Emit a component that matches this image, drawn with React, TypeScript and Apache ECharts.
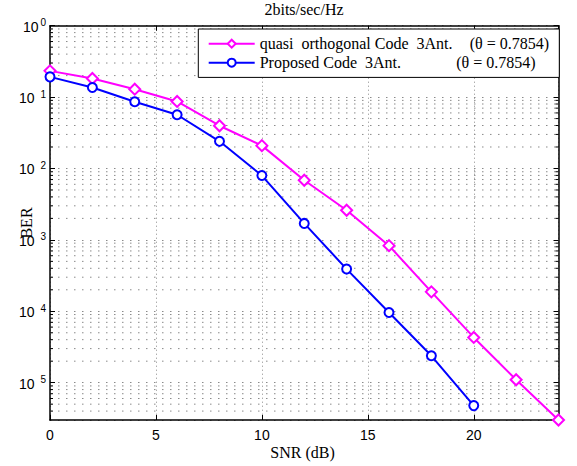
import React, { useEffect, useRef } from "react";
import * as echarts from "echarts";

const snr = [0, 2, 4, 6, 8, 10, 12, 14, 16, 18, 20, 22, 24];
const quasiBer = [0.233, 0.182, 0.129, 0.0869, 0.0397, 0.0209, 0.00684, 0.0026, 8.3e-4, 1.87e-4, 4.3e-5, 1.1e-5, 3.0e-6];
const proposedBer = [0.192, 0.136, 0.086, 0.0566, 0.024, 0.00796, 0.0017, 3.9e-4, 9.6e-5, 2.38e-5, 4.77e-6];

const quasiName = "quasi  orthogonal Code  3Ant. (θ = 0.7854)";
const proposedName = "Proposed Code  3Ant.        (θ = 0.7854)";
const titleText = "2bits/sec/Hz";
const xName = "SNR (dB)";
const yName = "BER";

const yMin = 3.0e-6;
const yMax = 1;
const xMin = 0;
const xMax = 24;
const decadeExps = [-1, -2, -3, -4, -5, -6];
const mantissas = [2, 3, 4, 5, 6, 7, 8, 9];

const SERIF = "'Liberation Serif', 'Times New Roman', serif";
const SANS = "'Liberation Sans', Arial, sans-serif";
const GRID_COLOR = "#8a8a8a";

export default function App() {
  const ref = useRef<HTMLDivElement>(null);
  useEffect(() => {
    if (!ref.current) return;
    const chart = echarts.init(ref.current, null, { renderer: "svg" });

    const minorValues: number[] = [];
    decadeExps.forEach((e) => {
      mantissas.forEach((m) => {
        const v = m * Math.pow(10, e);
        if (v > yMin && v < yMax) minorValues.push(v);
      });
    });

    const yLabelFormatter = (v: number) => {
      const e = Math.log10(v);
      const r = Math.round(e);
      if (Math.abs(e - r) > 1e-6) return "";
      if (r === 0) return "{b|10}{s0|0}";
      return "{b|10}{s|" + String(Math.abs(r)) + "}";
    };

    const option: any = {
      animation: false,
      grid: {
        left: 50,
        right: 18.5,
        top: 25.7,
        bottom: 46,
        containLabel: false,
        outerBoundsMode: "none",
      },
      graphic: [
        {
          type: "text",
          x: 304,
          y: 9,
          style: {
            text: titleText,
            align: "center",
            verticalAlign: "middle",
            font: "16px " + SERIF,
            fill: "#000",
          },
        },
        {
          type: "text",
          x: 302.5,
          y: 452,
          style: {
            text: xName,
            align: "center",
            verticalAlign: "middle",
            font: "16px " + SERIF,
            fill: "#000",
          },
        },
        {
          type: "text",
          x: 26,
          y: 223,
          rotation: Math.PI / 2,
          style: {
            text: yName,
            align: "center",
            verticalAlign: "middle",
            font: "16px " + SERIF,
            fill: "#000",
          },
        },
      ],
      legend: {
        data: [quasiName, proposedName],
        orient: "vertical",
        left: 198.3,
        top: 29,
        padding: [6.7, 3.6, 6.7, 9.4],
        itemGap: 3,
        itemWidth: 46,
        itemHeight: 10,
        backgroundColor: "#fff",
        borderColor: "#000",
        borderWidth: 1,
        borderRadius: 0,
        selectedMode: false,
        z: 20,
        textStyle: {
          fontFamily: SERIF,
          fontSize: 16,
          color: "#000",
          rich: {
            a: { fontFamily: SERIF, fontSize: 16, lineHeight: 20, width: 210, color: "#000" },
            c: { fontFamily: SERIF, fontSize: 16, lineHeight: 20, width: 196.5, color: "#000" },
            b: { fontFamily: SERIF, fontSize: 16, lineHeight: 20, width: 86, color: "#000" },
          },
        },
        formatter: (name: string) =>
          name === quasiName
            ? "{a|quasi  orthogonal Code  3Ant.}{b|(θ = 0.7854)}"
            : "{c|Proposed Code  3Ant.}{b|(θ = 0.7854)}",
      },
      xAxis: [
        {
          type: "value",
          min: xMin,
          max: xMax,
          interval: 5,
          position: "bottom",
          axisLine: { show: true, onZero: false, lineStyle: { color: "#000", width: 1.5 } },
          axisTick: { show: true, inside: true, length: 5, lineStyle: { color: "#000", width: 1 } },
          axisLabel: {
            margin: 8,
            fontFamily: SANS,
            fontSize: 14,
            color: "#000",
            formatter: (v: number) => (v % 5 === 0 ? String(v) : ""),
          },
          splitLine: { show: true, lineStyle: { color: GRID_COLOR, width: 1, type: [1, 3] } },
        },
        {
          type: "value",
          min: xMin,
          max: xMax,
          interval: 5,
          position: "top",
          axisLine: { show: true, onZero: false, lineStyle: { color: "#000", width: 1.5 } },
          axisTick: { show: true, inside: true, length: 5, lineStyle: { color: "#000", width: 1 } },
          axisLabel: { show: false },
          splitLine: { show: false },
        },
      ],
      yAxis: [
        {
          type: "log",
          logBase: 10,
          min: yMin,
          max: yMax,
          position: "left",
          axisLine: { show: true, onZero: false, lineStyle: { color: "#000", width: 1.5 } },
          axisTick: { show: true, inside: true, length: 5, lineStyle: { color: "#000", width: 1 } },
          axisLabel: {
            margin: 4,
            showMinLabel: false,
            formatter: yLabelFormatter,
            rich: {
              b: { fontFamily: SANS, fontSize: 14, lineHeight: 16, verticalAlign: "bottom", color: "#000" },
              s: { fontFamily: SANS, fontSize: 10, lineHeight: 8, verticalAlign: "top", color: "#000", padding: [0, 0, 0, 6] },
              s0: { fontFamily: SANS, fontSize: 10, lineHeight: 8, verticalAlign: "top", color: "#000", padding: [0, 0, 0, 2] },
            },
          },
          splitLine: { show: true, lineStyle: { color: GRID_COLOR, width: 1, type: [1.5, 6.5] } },
        },
        {
          type: "log",
          logBase: 10,
          min: yMin,
          max: yMax,
          position: "right",
          axisLine: { show: true, onZero: false, lineStyle: { color: "#000", width: 1.5 } },
          axisTick: { show: true, inside: true, length: 5, lineStyle: { color: "#000", width: 1 } },
          axisLabel: { show: false },
          splitLine: { show: false },
        },
      ],
      series: [
        {
          type: "custom",
          name: "minorGrid",
          silent: true,
          clip: false,
          z: 1,
          xAxisIndex: 0,
          yAxisIndex: 0,
          data: minorValues.map((v) => [0, v]),
          renderItem: (params: any, api: any) => {
            const v = api.value(1);
            const pt = api.coord([0, v]);
            const cs = params.coordSys;
            const y = pt[1];
            const x0 = cs.x;
            const x1 = cs.x + cs.width;
            return {
              type: "group",
              children: [
                {
                  type: "line",
                  shape: { x1: x0, y1: y, x2: x1, y2: y },
                  style: { stroke: GRID_COLOR, lineWidth: 1, lineDash: [1.5, 6.5] },
                },
                {
                  type: "line",
                  shape: { x1: x0, y1: y, x2: x0 + 3, y2: y },
                  style: { stroke: "#000", lineWidth: 1 },
                },
                {
                  type: "line",
                  shape: { x1: x1 - 3, y1: y, x2: x1, y2: y },
                  style: { stroke: "#000", lineWidth: 1 },
                },
              ],
            };
          },
        },
        {
          type: "line",
          name: quasiName,
          data: quasiBer.map((v, i) => [snr[i], v]),
          xAxisIndex: 0,
          yAxisIndex: 0,
          clip: false,
          z: 3,
          symbol: "emptyDiamond",
          symbolSize: 11,
          color: "#ff00ff",
          lineStyle: { color: "#ff00ff", width: 2 },
          itemStyle: { color: "#ff00ff", borderColor: "#ff00ff", borderWidth: 2 },
        },
        {
          type: "line",
          name: proposedName,
          data: proposedBer.map((v, i) => [snr[i], v]),
          xAxisIndex: 0,
          yAxisIndex: 0,
          clip: false,
          z: 4,
          symbol: "emptyCircle",
          symbolSize: 9,
          color: "#0000ff",
          lineStyle: { color: "#0000ff", width: 2 },
          itemStyle: { color: "#0000ff", borderColor: "#0000ff", borderWidth: 2 },
        },
      ],
    };

    chart.setOption(option);
    return () => chart.dispose();
  }, []);

  return (
    <div
      ref={ref}
      style={{ position: "fixed", left: 0, top: 0, width: 577, height: 466, background: "#fff" }}
    />
  );
}
